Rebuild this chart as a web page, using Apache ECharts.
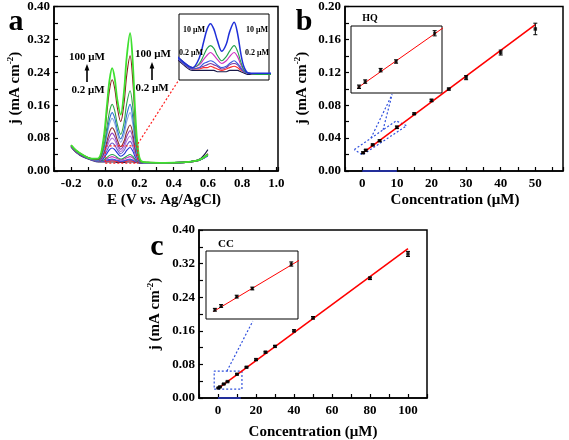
<!DOCTYPE html>
<html><head><meta charset="utf-8">
<script src="https://cdn.jsdelivr.net/npm/echarts@6/dist/echarts.min.js"></script>
<style>html,body{margin:0;padding:0;background:#fff}#c{width:569px;height:440px}</style>
</head><body><div id="c"></div>
<script>
// ---------- Panel a: DPV curves (j in mA cm^-2 vs E in V) ----------
const potentials = [-0.2, -0.17, -0.13, -0.08, -0.04, -0.01, 0.01, 0.025, 0.04, 0.055, 0.07, 0.09, 0.11, 0.125, 0.145, 0.16, 0.175, 0.19, 0.21, 0.25, 0.35, 0.45, 0.52, 0.56, 0.6];
const dpv1  = [0.063,0.050,0.039,0.030,0.031,0.080,0.161,0.222,0.250,0.226,0.174,0.137,0.196,0.276,0.335,0.269,0.143,0.058,0.024,0.021,0.020,0.021,0.024,0.029,0.040];
const dpv2  = [0.063,0.050,0.039,0.030,0.029,0.073,0.144,0.198,0.222,0.201,0.155,0.120,0.166,0.232,0.280,0.225,0.121,0.051,0.023,0.021,0.020,0.021,0.024,0.029,0.041];
const dpv3  = [0.062,0.049,0.038,0.029,0.028,0.058,0.108,0.145,0.162,0.147,0.114,0.089,0.119,0.163,0.195,0.158,0.088,0.041,0.022,0.021,0.020,0.021,0.024,0.029,0.038];
const dpv4  = [0.062,0.049,0.038,0.029,0.026,0.053,0.095,0.127,0.142,0.129,0.101,0.078,0.101,0.136,0.162,0.132,0.075,0.037,0.022,0.020,0.020,0.021,0.024,0.029,0.040];
const dpv5  = [0.062,0.049,0.038,0.029,0.026,0.049,0.087,0.115,0.128,0.116,0.091,0.070,0.089,0.120,0.142,0.116,0.068,0.035,0.022,0.020,0.020,0.021,0.024,0.029,0.039];
const dpv6  = [0.061,0.048,0.037,0.029,0.025,0.043,0.073,0.095,0.105,0.096,0.076,0.059,0.073,0.095,0.112,0.093,0.056,0.031,0.021,0.020,0.020,0.021,0.024,0.029,0.042];
const dpv7  = [0.061,0.048,0.037,0.029,0.025,0.040,0.065,0.083,0.092,0.084,0.067,0.053,0.065,0.084,0.098,0.082,0.050,0.029,0.021,0.020,0.020,0.021,0.024,0.029,0.040];
const dpv8  = [0.061,0.048,0.037,0.029,0.025,0.037,0.058,0.073,0.080,0.074,0.060,0.047,0.057,0.073,0.085,0.071,0.045,0.028,0.021,0.020,0.020,0.021,0.024,0.029,0.038];
const dpv9  = [0.061,0.048,0.037,0.028,0.024,0.034,0.050,0.062,0.068,0.063,0.052,0.042,0.050,0.062,0.072,0.061,0.040,0.026,0.021,0.020,0.020,0.021,0.024,0.029,0.039];
const dpv10 = [0.060,0.047,0.036,0.028,0.024,0.031,0.043,0.052,0.056,0.052,0.044,0.036,0.041,0.050,0.057,0.049,0.034,0.024,0.020,0.020,0.020,0.021,0.024,0.028,0.037];
const dpv11 = [0.060,0.047,0.036,0.028,0.024,0.027,0.033,0.038,0.040,0.038,0.033,0.029,0.032,0.036,0.040,0.036,0.028,0.022,0.020,0.019,0.019,0.020,0.023,0.028,0.040];
const dpv12 = [0.060,0.047,0.036,0.028,0.024,0.026,0.030,0.033,0.035,0.033,0.030,0.027,0.029,0.032,0.035,0.032,0.026,0.022,0.020,0.019,0.019,0.020,0.023,0.028,0.039];
const dpv13 = [0.059,0.046,0.035,0.027,0.023,0.024,0.027,0.028,0.029,0.028,0.026,0.024,0.025,0.027,0.029,0.027,0.024,0.021,0.020,0.019,0.019,0.020,0.023,0.028,0.037];
const dpv14 = [0.059,0.046,0.035,0.027,0.023,0.024,0.025,0.026,0.027,0.026,0.025,0.023,0.024,0.026,0.027,0.026,0.023,0.021,0.020,0.019,0.019,0.020,0.023,0.028,0.038];
const dpv15 = [0.059,0.046,0.035,0.027,0.023,0.023,0.024,0.024,0.025,0.024,0.023,0.022,0.023,0.024,0.025,0.024,0.022,0.021,0.020,0.019,0.019,0.020,0.023,0.028,0.041];
const dpv16 = [0.058,0.045,0.034,0.026,0.022,0.022,0.022,0.022,0.022,0.022,0.021,0.021,0.021,0.022,0.022,0.022,0.021,0.020,0.019,0.019,0.019,0.020,0.024,0.031,0.052];
const dpvCurves = [dpv1,dpv2,dpv3,dpv4,dpv5,dpv6,dpv7,dpv8,dpv9,dpv10,dpv11,dpv12,dpv13,dpv14,dpv15,dpv16];
const insetCurveIdx = [9,10,11,12,13,14,15];

// ---------- Panel b: HQ calibration ----------
const hqConc = [0.2, 1, 3, 5, 10, 15, 20, 25, 30, 40, 50];
const hqJ    = [0.0222,0.0252,0.0318,0.0368,0.0531,0.0696,0.0858,0.0996,0.1135,0.1440,0.1727];
const hqErr  = [0.0010,0.0010,0.0010,0.0010,0.0015,0.0010,0.0015,0.0012,0.0025,0.0030,0.0070];
const hqFitX = [0, 50];
const hqFitJ = [0.0215, 0.1780];

// ---------- Panel c: CC calibration ----------
const ccConc = [0.2, 1, 3, 5, 10, 15, 20, 25, 30, 40, 50, 80, 100];
const ccJ    = [0.0238,0.0265,0.0332,0.0390,0.0565,0.0732,0.0914,0.1090,0.1230,0.1600,0.1910,0.2850,0.3430];
const ccErr  = [0.0010,0.0010,0.0010,0.0010,0.0015,0.0015,0.0020,0.0020,0.0020,0.0025,0.0030,0.0030,0.0060];
const ccFitX = [0, 100];
const ccFitJ = [0.0225, 0.3555];

// ---------- tick labels ----------
const aXLabels = [-0.2, 0.0, 0.2, 0.4, 0.6, 0.8, 1.0];
const aYLabels = [0.00, 0.08, 0.16, 0.24, 0.32, 0.40];
const bXLabels = [0, 10, 20, 30, 40, 50];
const bYLabels = [0.00, 0.04, 0.08, 0.12, 0.16, 0.20];
const cXLabels = [0, 20, 40, 60, 80, 100];
const cYLabels = [0.00, 0.08, 0.16, 0.24, 0.32, 0.40];

// ---------- annotation geometry (data coordinates) ----------
const aZoomBoxE = [0.0, 0.19, 0.19, 0.0, 0.0];
const aZoomBoxJ = [0.019, 0.019, 0.061, 0.061, 0.019];
const aLinkE = [0.19, 0.428];
const aLinkJ = [0.066, 0.220];
const bBoxX = [-2.3, 9.8, 12.8, 0.0, -2.3];
const bBoxJ = [0.026, 0.061, 0.055, 0.0195, 0.026];
const bArrow1X = [2.5, 8.6], bArrow1J = [0.040, 0.093];
const bArrow2X = [6.0, 8.6], bArrow2J = [0.050, 0.093];
const bAxisMarkX = [0, 10], bAxisMarkJ = [0, 0];
const cBoxX = [-2, 12.6, 12.6, -2, -2];
const cBoxJ = [0.021, 0.021, 0.064, 0.064, 0.021];
const cArrowX = [4.7, 18.3], cArrowJ = [0.064, 0.183];
const cAxisMarkX = [0, 12], cAxisMarkJ = [0, 0];

const curveColors = ['#3fe030','#8b1c1c','#2fa84a','#2e6fd0','#8aa8de','#8b2d2d','#8a3fc0','#b57fd8','#6a5acd','#1f2fd8','#22a04a','#d030c0','#3a5ae0','#7a3aa0','#ff2a2a','#1a1a4a'];

const FONT = '"Liberation Serif", "Times New Roman", serif';
const chart = echarts.init(document.getElementById('c'));

function labelFmt(list, digits) {
  return function (v) {
    return list.some(t => Math.abs(t - v) < 1e-7) ? (Math.round(v * 1000) / 1000).toFixed(digits) : '';
  };
}
function mainX(gi, min, max, interval, list, digits) {
  return {
    gridIndex: gi, type: 'value', min: min, max: max, interval: interval,
    axisLine: { show: true, onZero: false, lineStyle: { color: '#000', width: 1.5 } },
    axisTick: { show: true, inside: true, length: 4, lineStyle: { color: '#000', width: 1.2 } },
    splitLine: { show: false },
    axisLabel: { color: '#000', fontFamily: FONT, fontWeight: 'bold', fontSize: 13, margin: 6, formatter: labelFmt(list, digits), showMinLabel: true, showMaxLabel: true, hideOverlap: false }
  };
}
function mainY(gi, min, max, interval, list, digits) {
  return {
    gridIndex: gi, type: 'value', min: min, max: max, interval: interval,
    axisLine: { show: true, onZero: false, lineStyle: { color: '#000', width: 1.5 } },
    axisTick: { show: true, inside: true, length: 4, lineStyle: { color: '#000', width: 1.2 } },
    splitLine: { show: false },
    axisLabel: { color: '#000', fontFamily: FONT, fontWeight: 'bold', fontSize: 13, margin: 4, formatter: labelFmt(list, digits), showMinLabel: true, showMaxLabel: true, hideOverlap: false }
  };
}
function hiddenAxis(gi, min, max) {
  return { gridIndex: gi, type: 'value', min: min, max: max, show: false, splitLine: { show: false } };
}
function pairs(xs, ys) { return xs.map((x, i) => [x, ys[i]]); }
function triples(xs, ys, es) { return xs.map((x, i) => [x, ys[i], es[i]]); }

function errRender(params, api) {
  const x = api.value(0), y = api.value(1), e = api.value(2);
  const t = api.coord([x, y + e]), b = api.coord([x, y - e]);
  const w = 2;
  const st = { stroke: '#000', lineWidth: 1 };
  return { type: 'group', children: [
    { type: 'line', shape: { x1: t[0], y1: t[1], x2: b[0], y2: b[1] }, style: st },
    { type: 'line', shape: { x1: t[0] - w, y1: t[1], x2: t[0] + w, y2: t[1] }, style: st },
    { type: 'line', shape: { x1: b[0] - w, y1: b[1], x2: b[0] + w, y2: b[1] }, style: st }
  ] };
}

const series = [];
for (let i = dpvCurves.length - 1; i >= 0; i--) {
  series.push({ type: 'line', xAxisIndex: 0, yAxisIndex: 0, data: pairs(potentials, dpvCurves[i]), smooth: 0.35, symbol: 'none',
    lineStyle: { color: curveColors[i], width: i === 0 ? 1.8 : 1.1 }, z: 3, silent: true });
}
for (let k = insetCurveIdx.length - 1; k >= 0; k--) {
  const i = insetCurveIdx[k];
  series.push({ type: 'line', xAxisIndex: 3, yAxisIndex: 3, data: pairs(potentials, dpvCurves[i]), smooth: 0.35, symbol: 'none', clip: true,
    lineStyle: { color: curveColors[i], width: i === 9 ? 1.5 : 1.1 }, z: 5, silent: true });
}
series.push({ type: 'line', xAxisIndex: 0, yAxisIndex: 0, data: pairs(aZoomBoxE, aZoomBoxJ), symbol: 'none', lineStyle: { color: '#ff2020', width: 1.2, type: [2, 2] }, z: 4 });
series.push({ type: 'line', xAxisIndex: 0, yAxisIndex: 0, data: pairs(aLinkE, aLinkJ), symbol: 'none', lineStyle: { color: '#ff2020', width: 1.2, type: [2, 2] }, z: 4 });

function calib(xi, yi, conc, j, err, fx, fj, fitW, sym, clip) {
  series.push({ type: 'line', xAxisIndex: xi, yAxisIndex: yi, data: pairs(fx, fj), symbol: 'none', clip: clip, lineStyle: { color: '#ff0000', width: fitW }, z: 6 });
  series.push({ type: 'custom', xAxisIndex: xi, yAxisIndex: yi, data: triples(conc, j, err), renderItem: errRender, clip: clip, z: 7 });
  series.push({ type: 'scatter', xAxisIndex: xi, yAxisIndex: yi, data: pairs(conc, j), symbol: 'rect', symbolSize: sym, clip: clip, itemStyle: { color: '#000' }, z: 8 });
}
calib(1, 1, hqConc, hqJ, hqErr, hqFitX, hqFitJ, 1.6, 3.5, true);
calib(4, 4, hqConc, hqJ, hqErr, hqFitX, hqFitJ, 1, 3, true);
calib(2, 2, ccConc, ccJ, ccErr, ccFitX, ccFitJ, 1.6, 3.5, true);
calib(5, 5, ccConc, ccJ, ccErr, ccFitX, ccFitJ, 1, 3, true);

const blueDot = { color: '#3050dd', width: 1.2, type: [2, 2] };
series.push({ type: 'line', xAxisIndex: 1, yAxisIndex: 1, data: pairs(bBoxX, bBoxJ), symbol: 'none', lineStyle: blueDot, z: 5 });
series.push({ type: 'line', xAxisIndex: 1, yAxisIndex: 1, data: pairs(bArrow1X, bArrow1J), symbol: 'none', lineStyle: blueDot, z: 5 });
series.push({ type: 'line', xAxisIndex: 1, yAxisIndex: 1, data: pairs(bArrow2X, bArrow2J), symbol: 'none', lineStyle: blueDot, z: 5 });
series.push({ type: 'line', xAxisIndex: 1, yAxisIndex: 1, data: pairs(bAxisMarkX, bAxisMarkJ), symbol: 'none', clip: false, lineStyle: { color: '#2a3ac8', width: 1.5 }, z: 9 });
series.push({ type: 'line', xAxisIndex: 2, yAxisIndex: 2, data: pairs(cBoxX, cBoxJ), symbol: 'none', lineStyle: blueDot, z: 5 });
series.push({ type: 'line', xAxisIndex: 2, yAxisIndex: 2, data: pairs(cArrowX, cArrowJ), symbol: 'none', lineStyle: blueDot, z: 5 });
series.push({ type: 'line', xAxisIndex: 2, yAxisIndex: 2, data: pairs(cAxisMarkX, cAxisMarkJ), symbol: 'none', clip: false, lineStyle: { color: '#2a3ac8', width: 1.5 }, z: 9 });

function arrowUp(x, yBottom, yTop, lw, head) {
  return [
    { type: 'line', shape: { x1: x, y1: yBottom, x2: x, y2: yTop + head }, style: { stroke: '#000', lineWidth: lw } },
    { type: 'polygon', shape: { points: [[x - head * 0.6, yTop + head * 1.6], [x + head * 0.6, yTop + head * 1.6], [x, yTop]] }, style: { fill: '#000' } }
  ];
}
function txt(x, y, text, size, extra) {
  return Object.assign({ type: 'text', x: x, y: y, z: 20,
    style: { text: text, fill: '#000', font: 'bold ' + size + 'px ' + FONT, align: 'center', verticalAlign: 'middle' } }, extra || {});
}
function yTitle(x, y) {
  return { type: 'text', x: x, y: y, rotation: Math.PI / 2, z: 20,
    style: { text: '{n|j (mA cm}{s|-2}{n|)}', align: 'center', verticalAlign: 'middle',
      rich: { n: { font: 'bold 15px ' + FONT, fill: '#000', lineHeight: 18 }, s: { font: 'bold 9px ' + FONT, fill: '#000', verticalAlign: 'top', lineHeight: 18 } } } };
}

const graphic = [].concat(
  [txt(16, 22, 'a', 30), txt(304, 22, 'b', 30), txt(157, 247, 'c', 30)],
  [yTitle(15, 88), yTitle(302, 88), yTitle(155, 314)],
  [{ type: 'text', x: 164, y: 200, z: 20, style: { text: '{n|E (V }{i|vs.}{n| Ag/AgCl)}', align: 'center', verticalAlign: 'middle',
      rich: { n: { font: 'bold 15px ' + FONT, fill: '#000' }, i: { font: 'italic bold 15px ' + FONT, fill: '#000' } } } },
   txt(455, 200, 'Concentration (\u03bcM)', 15), txt(313, 432, 'Concentration (\u03bcM)', 15)],
  [txt(87, 57, '100 \u03bcM', 11), txt(88, 90, '0.2 \u03bcM', 11), txt(153, 54, '100 \u03bcM', 11), txt(152, 88, '0.2 \u03bcM', 11)],
  arrowUp(87, 82, 64, 1.6, 4), arrowUp(152, 80, 62, 1.6, 4),
  [txt(194, 30, '10 \u03bcM', 8), txt(191, 53, '0.2 \u03bcM', 8), txt(257, 30, '10 \u03bcM', 8), txt(257, 53, '0.2 \u03bcM', 8)],
  arrowUp(192, 47, 36, 1, 2.5), arrowUp(256, 47, 36, 1, 2.5),
  [txt(370, 18, 'HQ', 10), txt(226, 244, 'CC', 11)]
);

const option = {
  animation: false,
  backgroundColor: '#fff',
  grid: [
    { left: 54, top: 6, width: 224, height: 165, show: true, borderColor: '#000', borderWidth: 1.5, backgroundColor: 'transparent' },
    { left: 345, top: 6, width: 218, height: 165, show: true, borderColor: '#000', borderWidth: 1.5 },
    { left: 199, top: 230, width: 228, height: 168, show: true, borderColor: '#000', borderWidth: 1.5 },
    { left: 179, top: 14, width: 90, height: 66, show: true, borderColor: '#000', borderWidth: 1, backgroundColor: '#fff', z: 4 },
    { left: 351, top: 26, width: 91, height: 67, show: true, borderColor: '#000', borderWidth: 1, backgroundColor: '#fff', z: 4 },
    { left: 206, top: 251, width: 92, height: 68, show: true, borderColor: '#000', borderWidth: 1, backgroundColor: '#fff', z: 4 }
  ],
  xAxis: [
    mainX(0, -0.3, 1.01, 0.1, aXLabels, 1),
    mainX(1, -5, 58, 5, bXLabels, 0),
    mainX(2, -10, 110, 10, cXLabels, 0),
    hiddenAxis(3, -0.1, 0.3),
    hiddenAxis(4, -0.84, 10.95),
    hiddenAxis(5, -0.94, 10.86)
  ],
  yAxis: [
    mainY(0, 0, 0.4, 0.04, aYLabels, 2),
    mainY(1, 0, 0.2, 0.02, bYLabels, 2),
    mainY(2, 0, 0.4, 0.04, cYLabels, 2),
    hiddenAxis(3, 0.015, 0.063),
    hiddenAxis(4, 0.0186, 0.0573),
    hiddenAxis(5, 0.0172, 0.0658)
  ],
  series: series,
  graphic: graphic
};
chart.setOption(option);
</script></body></html>
